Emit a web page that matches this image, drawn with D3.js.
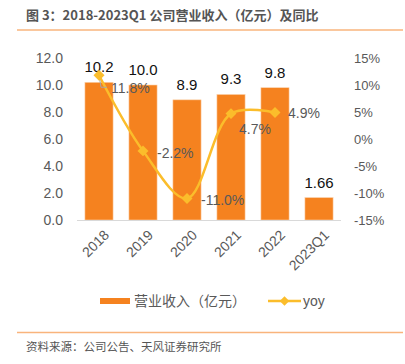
<!DOCTYPE html>
<html><head><meta charset="utf-8">
<script src="https://cdnjs.cloudflare.com/ajax/libs/d3/7.8.5/d3.min.js"></script>
<style>
html,body{margin:0;padding:0;background:#fff;}
svg{display:block;font-family:"Noto Sans CJK SC","Liberation Sans",Arial,sans-serif;}
</style></head>
<body><svg id="c" width="405" height="364"></svg>
<script>
const categories = ["2018","2019","2020","2021","2022","2023Q1"];
const revenue = [10.2, 10.0, 8.9, 9.3, 9.8, 1.66];
const revenueLabels = ["10.2","10.0","8.9","9.3","9.8","1.66"];
const yoy = [11.8, -2.2, -11.0, 4.7, 4.9];
const yoyLabels = ["11.8%","-2.2%","-11.0%","4.7%","4.9%"];
const leftTicks = [0,2,4,6,8,10,12];
const rightTicks = [-15,-10,-5,0,5,10,15];

const svg = d3.select("#c");
const orange = "#F5821F", yellow = "#FBBD2B", gray = "#595959";
const plotTop = 58, plotBottom = 220;

svg.append("text").attr("x",26).attr("y",20).attr("font-size",13).attr("font-weight","bold")
  .attr("fill","#555").text("图 3：2018-2023Q1 公司营业收入（亿元）及同比");
svg.append("line").attr("x1",17).attr("x2",403).attr("y1",30).attr("y2",30)
  .attr("stroke","#F9B47C").attr("stroke-width",1.5);

const x = d3.scaleBand().domain(categories).range([77,341]).paddingInner(0.36).paddingOuter(0.18);
const yL = d3.scaleLinear().domain([0,12]).range([plotBottom, plotTop]);
const yR = d3.scaleLinear().domain([-15,15]).range([plotBottom, plotTop]);

// left axis
const ax = svg.append("g").attr("transform","translate(66,0)")
  .call(d3.axisLeft(yL).tickValues(leftTicks).tickFormat(d3.format(".1f")).tickSize(0).tickPadding(3));
ax.select(".domain").remove();
ax.selectAll("text").attr("font-size",14).attr("fill",gray).attr("font-family","Liberation Sans, Arial, sans-serif");

const ar = svg.append("g").attr("transform","translate(351,0)")
  .call(d3.axisRight(yR).tickValues(rightTicks).tickFormat(d=>d+"%").tickSize(0).tickPadding(3));
ar.select(".domain").remove();
ar.selectAll("text").attr("font-size",13).attr("fill",gray).attr("font-family","Liberation Sans, Arial, sans-serif");

// bars
svg.selectAll(".bar").data(revenue).enter().append("rect")
  .attr("x",(d,i)=>x(categories[i])).attr("width",x.bandwidth())
  .attr("y",d=>yL(d)).attr("height",d=>yL(0)-yL(d))
  .attr("fill",orange).attr("stroke","#FBD3AE").attr("stroke-width",0.6);

svg.append("line").attr("x1",77).attr("x2",341).attr("y1",plotBottom+0.5).attr("y2",plotBottom+0.5)
  .attr("stroke","#D9D9D9").attr("stroke-width",1);

svg.selectAll(".bl").data(revenue).enter().append("text")
  .attr("x",(d,i)=>x(categories[i])+x.bandwidth()/2).attr("y",d=>yL(d)-10)
  .attr("text-anchor","middle").attr("font-size",15).attr("fill","#111")
  .attr("font-family","Liberation Sans, Arial, sans-serif")
  .text((d,i)=>revenueLabels[i]);

// x labels
svg.selectAll(".xl").data(categories).enter().append("text")
  .attr("transform",d=>`translate(${x(d)+x.bandwidth()/2+4},${plotBottom+9}) rotate(-45)`)
  .attr("text-anchor","end").attr("dy","0.7em").attr("font-size",14).attr("fill",gray)
  .attr("font-family","Liberation Sans, Arial, sans-serif").text(d=>d);

// yoy line
const cx = i => x(categories[i]) + x.bandwidth()/2;
const line = d3.line().x((d,i)=>cx(i)).y(d=>yR(d)).curve(d3.curveCatmullRom.alpha(0.5));
svg.append("path").datum(yoy).attr("d",line).attr("fill","none").attr("stroke",yellow).attr("stroke-width",2.5);

// leader line for first label
svg.append("path").attr("d",`M${cx(0)},${yR(yoy[0])} L${cx(0)+2},${yR(yoy[0])+12} L${cx(0)+8},${yR(yoy[0])+12}`)
  .attr("fill","none").attr("stroke","#A6A6A6").attr("stroke-width",1);

svg.selectAll(".mk").data(yoy).enter().append("path")
  .attr("transform",(d,i)=>`translate(${cx(i)},${yR(d)}) rotate(45)`)
  .attr("d",d3.symbol().type(d3.symbolSquare).size(60)).attr("fill",yellow);

const off = [[12,13],[14,2],[14,2],[8,15],[13,1]];
svg.selectAll(".yl").data(yoy).enter().append("text")
  .attr("x",(d,i)=>cx(i)+off[i][0]).attr("y",(d,i)=>yR(d)+off[i][1]).attr("dy","0.35em")
  .attr("font-size",14).attr("fill",gray).attr("font-family","Liberation Sans, Arial, sans-serif")
  .text((d,i)=>yoyLabels[i]);

// legend
svg.append("rect").attr("x",100).attr("y",298).attr("width",30).attr("height",6).attr("fill",orange);
svg.append("text").attr("x",134).attr("y",301).attr("dy","0.35em").attr("font-size",14).attr("fill",gray).text("营业收入（亿元）");
svg.append("line").attr("x1",268).attr("x2",301).attr("y1",301).attr("y2",301).attr("stroke",yellow).attr("stroke-width",2.5);
svg.append("path").attr("transform","translate(284.5,301) rotate(45)").attr("d",d3.symbol().type(d3.symbolSquare).size(45)).attr("fill",yellow);
svg.append("text").attr("x",303).attr("y",301).attr("dy","0.35em").attr("font-size",14).attr("fill",gray)
  .attr("font-family","Liberation Sans, Arial, sans-serif").text("yoy");

svg.append("line").attr("x1",17).attr("x2",403).attr("y1",332.5).attr("y2",332.5)
  .attr("stroke","#F9B47C").attr("stroke-width",1.5);
svg.append("text").attr("x",26).attr("y",351).attr("font-size",11.5).attr("fill","#555").text("资料来源：公司公告、天风证券研究所");
</script></body></html>
